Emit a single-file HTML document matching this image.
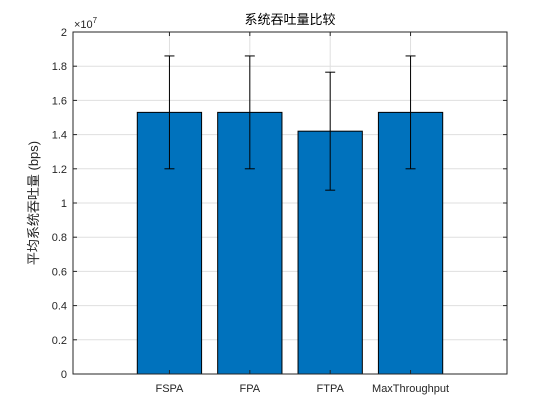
<!DOCTYPE html>
<html><head><meta charset="utf-8"><style>
html,body{margin:0;padding:0;background:#fff;width:560px;height:420px;overflow:hidden;}
svg{position:absolute;left:0;top:0;display:block;}
text{font-family:"Liberation Sans","Noto Sans CJK SC",sans-serif;}
</style></head><body>
<svg id="c" width="560" height="420" xmlns="http://www.w3.org/2000/svg"></svg>
<script>
const categories=["FSPA","FPA","FTPA","MaxThroughput"];
const means=[1.53,1.53,1.42,1.53];
const errUpper=[1.86,1.86,1.765,1.86];
const errLower=[1.20,1.20,1.075,1.20];
const yTicks=[0,0.2,0.4,0.6,0.8,1,1.2,1.4,1.6,1.8,2];
const yTickLabels=["0","0.2","0.4","0.6","0.8","1","1.2","1.4","1.6","1.8","2"];
const L=73,R=507,T=32,B=374;
const xs=i=>L+(i+1-(-0.2))/(5.4)*(R-L);
const ys=v=>B-v/2*(B-T);
const svg=document.getElementById('c');
const NS="http://www.w3.org/2000/svg";
function mk(tag,at,par){const e=document.createElementNS(NS,tag);for(const k in at)e.setAttribute(k,at[k]);(par||svg).appendChild(e);return e;}
const bw=0.8/5.4*(R-L);
yTicks.forEach((v,i)=>{
 const g=mk('line',{x1:L,x2:R,y1:ys(v),y2:ys(v),stroke:'#dfdfdf','stroke-width':1});
 
 
});
categories.forEach((c,i)=>{
 const g=mk('line',{x1:xs(i),x2:xs(i),y1:T,y2:B,stroke:'#dfdfdf','stroke-width':1});
 
 
});
categories.forEach((c,i)=>{
 const b=mk('rect',{x:xs(i)-bw/2,y:ys(means[i]),width:bw,height:B-ys(means[i]),fill:'#0072bd',stroke:'#000','stroke-width':1});
 
 
});
categories.forEach((c,i)=>{
 const g=mk('g',{stroke:'#000','stroke-width':1});
 
 
 const x=xs(i);
 mk('line',{x1:x,x2:x,y1:ys(errUpper[i]),y2:ys(errLower[i])},g);
 mk('line',{x1:x-5,x2:x+5,y1:ys(errUpper[i]),y2:ys(errUpper[i])},g);
 mk('line',{x1:x-5,x2:x+5,y1:ys(errLower[i]),y2:ys(errLower[i])},g);
});
const box=mk('rect',{x:L,y:T,width:R-L,height:B-T,fill:'none',stroke:'#262626','stroke-width':1});


yTicks.forEach((v,i)=>{
 mk('line',{x1:L,x2:L+4,y1:ys(v),y2:ys(v),stroke:'#262626'});
 mk('line',{x1:R,x2:R-4,y1:ys(v),y2:ys(v),stroke:'#262626'});
 const t=mk('text',{x:L-6,y:ys(v)+4,'text-anchor':'end','font-size':11,fill:'#262626','font-family':'Liberation Mono, monospace'});
 t.textContent=yTickLabels[i];
 
 
});
categories.forEach((c,i)=>{
 mk('line',{x1:xs(i),x2:xs(i),y1:B,y2:B-4,stroke:'#262626'});
 mk('line',{x1:xs(i),x2:xs(i),y1:T,y2:T+4,stroke:'#262626'});
 const t=mk('text',{x:xs(i),y:B+18,'text-anchor':'middle','font-size':11,fill:'#262626','font-family':'Liberation Mono, monospace'});
 t.textContent=c;
 
 
});
</script>
<svg width="560" height="420" xmlns="http://www.w3.org/2000/svg">
<text x="290" y="24" text-anchor="middle" font-size="13" fill="#000" font-family="Liberation Sans,Noto Sans CJK SC,sans-serif">系统吞吐量比较</text>
<text x="74" y="28" font-size="11" fill="#262626" font-family="Liberation Sans,sans-serif">×10<tspan dy="-5" font-size="8">7</tspan></text>
<text transform="translate(38,203) rotate(-90)" text-anchor="middle" font-size="13" fill="#262626" font-family="Liberation Sans,Noto Sans CJK SC,sans-serif">平均系统吞吐量 (bps)</text>
</svg>
</body></html>
